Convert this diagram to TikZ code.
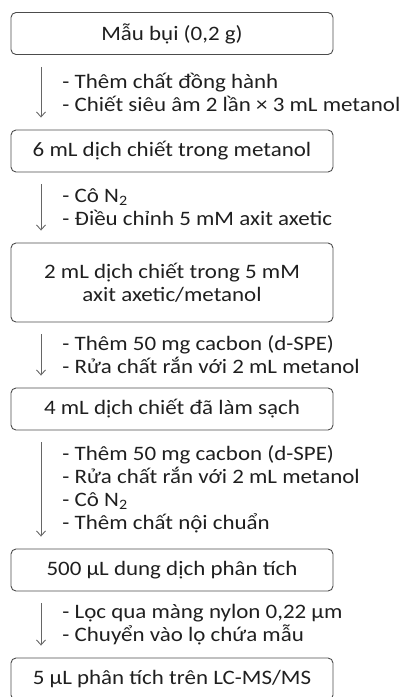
\documentclass[tikz,border=0pt]{standalone}
\usepackage{fontspec}
\setmainfont{Carlito}[FakeStretch=1.12]
\usepackage{tikz}
\usetikzlibrary{calc,arrows.meta}

\begin{document}
\begin{tikzpicture}[x=1pt,y=-1pt,font=\fontsize{20.5}{23}\selectfont]
\pgfmathsetmacro{\xArr}{41}
\pgfmathsetmacro{\xMid}{172}

\tikzstyle{stage}=[draw=black!70,line width=0.9pt,rounded corners=5pt,minimum width=322pt,minimum height=42pt,inner sep=2pt,align=center,text=black!88]
\tikzstyle{flow}=[draw=black!60,line width=0.9pt,-{Straight Barb[length=5pt,width=9pt]},shorten <=12pt,shorten >=12pt]
\tikzstyle{note}=[right=21pt,align=left,text=black!88,inner sep=0pt]

\clip (0,0) rectangle (416,697);
\useasboundingbox (0,0) rectangle (416,697);

\node[stage] (mau) at (\xMid,33.5) {Mẫu bụi (0,2 g)};
\node[stage] (dich6) at (\xMid,151) {6 mL dịch chiết trong metanol};
\node[stage,minimum height=79pt] (dich2) at (\xMid,282.5) {2 mL dịch chiết trong 5 mM\\axit axetic/metanol};
\node[stage] (sach) at (\xMid,409) {4 mL dịch chiết đã làm sạch};
\node[stage] (phantich) at (\xMid,570) {500 µL dung dịch phân tích};
\node[stage] (lcms) at (\xMid,679) {5 µL phân tích trên LC-MS/MS};

\draw[flow] (mau.south -| \xArr,0) -- (dich6.north -| \xArr,0)
  node[note,midway] {- Thêm chất đồng hành\\- Chiết siêu âm 2 lần × 3 mL metanol};
\draw[flow] (dich6.south -| \xArr,0) -- (dich2.north -| \xArr,0)
  node[note,midway] {- Cô N\textsubscript{2}\\- Điều chỉnh 5 mM axit axetic};
\draw[flow] (dich2.south -| \xArr,0) -- (sach.north -| \xArr,0)
  node[note,midway] {- Thêm 50 mg cacbon (d-SPE)\\- Rửa chất rắn với 2 mL metanol};
\draw[flow] (sach.south -| \xArr,0) -- (phantich.north -| \xArr,0)
  node[note,midway] {- Thêm 50 mg cacbon (d-SPE)\\- Rửa chất rắn với 2 mL metanol\\- Cô N\textsubscript{2}\\- Thêm chất nội chuẩn};
\draw[flow] (phantich.south -| \xArr,0) -- (lcms.north -| \xArr,0)
  node[note,midway] {- Lọc qua màng nylon 0,22 µm\\- Chuyển vào lọ chứa mẫu};
\end{tikzpicture}
\end{document}
